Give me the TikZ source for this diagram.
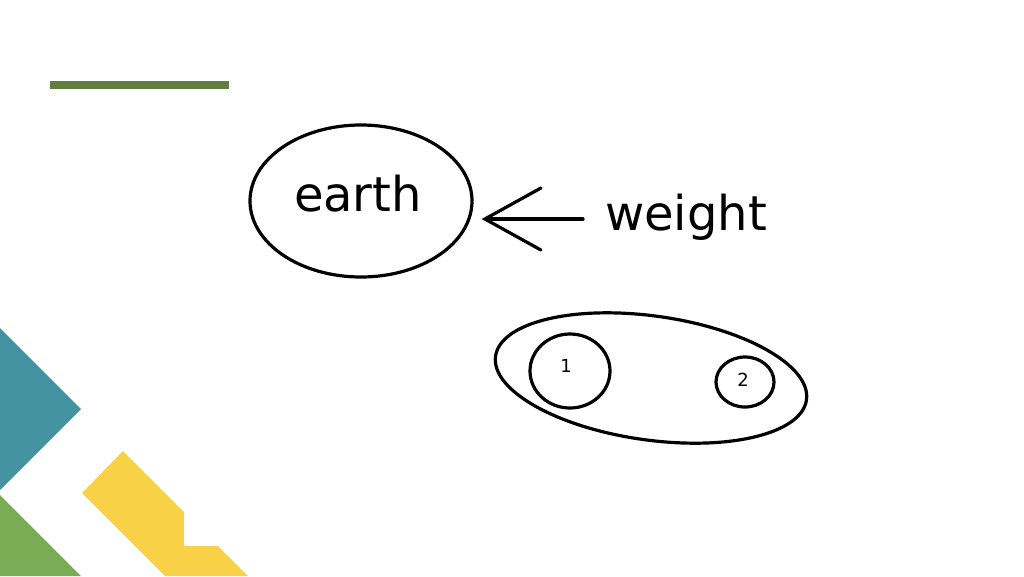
\documentclass[tikz,border=0pt]{standalone}
\usepackage{fontspec}
\setmainfont{DejaVu Sans}
\usetikzlibrary{shapes.geometric,arrows.meta}
\definecolor{tealc}{HTML}{4393A1}
\definecolor{greenc}{HTML}{7AAB55}
\definecolor{yellowc}{HTML}{F8D147}
\definecolor{barc}{HTML}{617E3E}
\tikzset{
  ink/.style={draw=black,line width=3.2pt},
  blob/.style={ink,ellipse,inner sep=0pt},
  hand/.style={font=\fontsize{48}{52}\selectfont},
  small/.style={font=\fontsize{18}{20}\selectfont},
  arrowline/.style={ink,line cap=round,-{Straight Barb[length=56pt,width=62pt,line cap=round]}}
}
\begin{document}
\begin{tikzpicture}[x=1pt,y=-1pt]
\useasboundingbox[fill=white] (0,0) rectangle (1024,576);
% decorations
\fill[tealc] (0,328) -- (81,409) -- (0,490) -- cycle;
\fill[greenc] (0,495) -- (81,576) -- (0,576) -- cycle;
\fill[yellowc] (123,451) -- (184,512) -- (184,546) -- (218,546) -- (248,576) -- (165,576) -- (82,493) -- cycle;
\fill[barc] (50,81) rectangle (229,89);
% earth
\node[blob,minimum width=222pt,minimum height=152pt] (earth) at (361,201) {};
\node[hand] (earthtxt) at (358,194) {earth};
% weight
\node[hand,anchor=mid west,inner sep=0pt] (weight) at (605,228) {weight};
\draw[arrowline,shorten <=22pt,shorten >=8pt] ([yshift=9pt]weight.mid west) -- ([yshift=9pt]weight.mid west -| earth.east);
% group
\node[blob,minimum width=314pt,minimum height=124pt,rotate=-8] (group) at (651,378) {};
\node[blob,minimum width=80pt,minimum height=74pt] (one) at (570,371) {};
\node[small] (onetxt) at (566,366) {1};
\node[blob,minimum width=58pt,minimum height=50pt] (two) at (745,382) {};
\node[small] (twotxt) at (743,380) {2};
\end{tikzpicture}
\end{document}
